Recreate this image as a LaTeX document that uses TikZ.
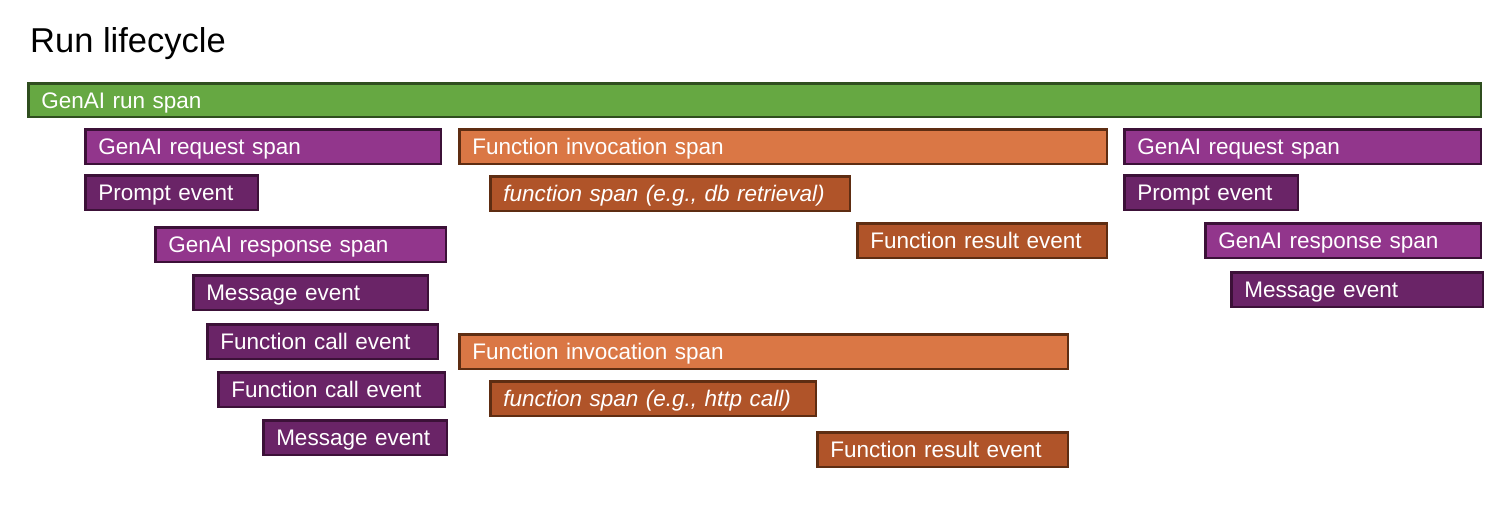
\documentclass[tikz,border=0pt]{standalone}
\usepackage{fontspec}
\setmainfont{Liberation Sans}
\usepackage{xcolor}
\usepackage{tikz}
\usetikzlibrary{positioning}

\definecolor{runfill}{HTML}{66A842}
\definecolor{runline}{HTML}{2F4E1E}
\definecolor{reqfill}{HTML}{92368C}
\definecolor{evtfill}{HTML}{6A2467}
\definecolor{purpline}{HTML}{3C1138}
\definecolor{invfill}{HTML}{DA7745}
\definecolor{fnfill}{HTML}{B05429}
\definecolor{orline}{HTML}{5E2D12}

\begin{document}
\begin{tikzpicture}[
    x=1pt, y=-1pt,
    bar/.style={rectangle, draw, line width=2.5pt, anchor=north west,
                minimum height=34.5pt, inner xsep=13pt, inner ysep=0pt,
                text height=16pt, text depth=0pt, align=left, text=white,
                font=\fontsize{22.5}{26}\selectfont},
    boxw/.style={text width=#1pt-28.5pt},
    runbar/.style={bar, fill=runfill, draw=runline, minimum height=33.5pt},
    reqbar/.style={bar, fill=reqfill, draw=purpline},
    evtbar/.style={bar, fill=evtfill, draw=purpline},
    invbar/.style={bar, fill=invfill, draw=orline},
    fnbar/.style={bar, fill=fnfill, draw=orline}
]
\useasboundingbox (0,0) rectangle (1512,520);

\node[anchor=base west, inner sep=0pt, font=\fontsize{34.5}{40}\selectfont] (title) at (30,52) {Run lifecycle};

% run span
\node[runbar, boxw=1455] (run) at (27,82) {GenAI run span};

% first model call
\node[reqbar, boxw=358] (req1)    at (84,128)  {GenAI request span};
\node[evtbar, boxw=175] (prompt1) at (84,174)  {Prompt event};
\node[reqbar, boxw=293] (resp1)   at (154,226) {GenAI response span};
\node[evtbar, boxw=237] (msg1)    at (192,274) {Message event};
\node[evtbar, boxw=233] (call1)   at (206,323) {Function call event};
\node[evtbar, boxw=229] (call2)   at (217,371) {Function call event};
\node[evtbar, boxw=186] (msg2)    at (262,419) {Message event};

% tool calls
\node[invbar, boxw=650] (inv1) at (458,128) {Function invocation span};
\node[fnbar, boxw=362, font=\fontsize{22.5}{26}\selectfont\itshape] (fn1) at (489,175) {function span (e.g., db retrieval)};
\node[fnbar, boxw=252] (res1) at (856,222) {Function result event};

\node[invbar, boxw=611] (inv2) at (458,333) {Function invocation span};
\node[fnbar, boxw=328, font=\fontsize{22.5}{26}\selectfont\itshape] (fn2) at (489,380) {function span (e.g., http call)};
\node[fnbar, boxw=253] (res2) at (816,431) {Function result event};

% second model call
\node[reqbar, boxw=359] (req2)    at (1123,128) {GenAI request span};
\node[evtbar, boxw=176] (prompt2) at (1123,174) {Prompt event};
\node[reqbar, boxw=278] (resp2)   at (1204,222) {GenAI response span};
\node[evtbar, boxw=254] (msg3)    at (1230,271) {Message event};

\end{tikzpicture}
\end{document}
